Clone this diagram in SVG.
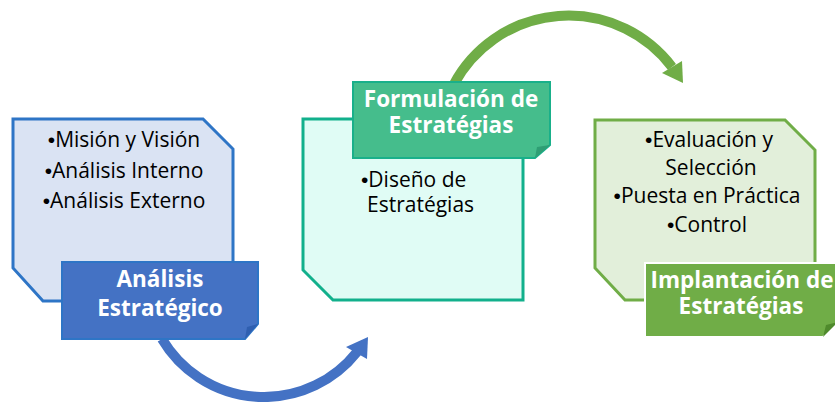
<svg xmlns="http://www.w3.org/2000/svg" width="835" height="402" viewBox="0 0 835 402">
<style>
.body{font-family:"Open Sans","Liberation Sans",sans-serif;font-size:21px;fill:#000}
.b{font-family:"Liberation Sans",sans-serif}
.title{font-family:"Open Sans","Liberation Sans",sans-serif;font-size:22.5px;font-weight:bold;fill:#fff;text-anchor:middle}
.arc{fill:none;stroke-width:10}
</style>
<rect width="835" height="402" fill="#fff"/>
<g id="connectors">
  <path class="arc" d="M162,339 A118.6,118.6 0 0 0 357,352" stroke="#4472c4"/>
  <polygon points="368,337 346,347 367,359" fill="#4472c4"/>
  <path class="arc" d="M454,84 A130,130 0 0 1 672,67" stroke="#70ad47"/>
  <polygon points="683,83 662,73 682,61" fill="#70ad47"/>
</g>
<g id="analisis">
  <polygon points="13,119 203,119 233,149 233,301 43,301 13,268" fill="#dae3f3" stroke="#2e75c6" stroke-width="3"/>
  <text class="body" text-anchor="middle" x="124" y="147"><tspan class="b">•</tspan>Misión y Visión</text>
  <text class="body" text-anchor="middle" x="124" y="178"><tspan class="b">•</tspan>Análisis Interno</text>
  <text class="body" text-anchor="middle" x="124" y="208"><tspan class="b">•</tspan>Análisis Externo</text>
  <polygon points="62,262 258,262 258,324 245,339 62,339" fill="#4472c4" stroke="#2e75c6" stroke-width="2"/>
  <polygon points="245,339 258,324 247,327" fill="#2f5fb0"/>
  <text class="title" x="160" y="287">Análisis</text>
  <text class="title" x="160" y="316">Estratégico</text>
</g>
<g id="formulacion">
  <polygon points="303,119 493,119 523,149 523,300 333,300 303,270" fill="#e0fcf5" stroke="#12b08c" stroke-width="3"/>
  <text class="body" x="361" y="187"><tspan class="b">•</tspan>Diseño de</text>
  <text class="body" x="367" y="212">Estratégias</text>
  <polygon points="353,82 550,82 550,145 535,158 353,158" fill="#45bd8c" stroke="#19b08a" stroke-width="2"/>
  <polygon points="535,158 550,145 537,147" fill="#2f9e74"/>
  <text class="title" x="451" y="107">Formulación de</text>
  <text class="title" x="451" y="133">Estratégias</text>
</g>
<g id="implantacion">
  <polygon points="595,120 785,120 815,150 815,300 625,300 595,268" fill="#e2efda" stroke="#70ad47" stroke-width="3"/>
  <text class="body" text-anchor="middle" x="709" y="147"><tspan class="b">•</tspan>Evaluación y</text>
  <text class="body" text-anchor="middle" x="711" y="175">Selección</text>
  <text class="body" text-anchor="middle" x="707" y="203"><tspan class="b">•</tspan>Puesta en Práctica</text>
  <text class="body" text-anchor="middle" x="707" y="232"><tspan class="b">•</tspan>Control</text>
  <polygon points="645,263 838,263 838,322 823,337 645,337" fill="#70ad47" stroke="#fff" stroke-width="2"/>
  <polygon points="823,337 838,322 826,325" fill="#4f8a2c"/>
  <text class="title" x="742" y="288" font-size="22">Implantación de</text>
  <text class="title" x="741" y="314" font-size="22">Estratégias</text>
</g>
</svg>
